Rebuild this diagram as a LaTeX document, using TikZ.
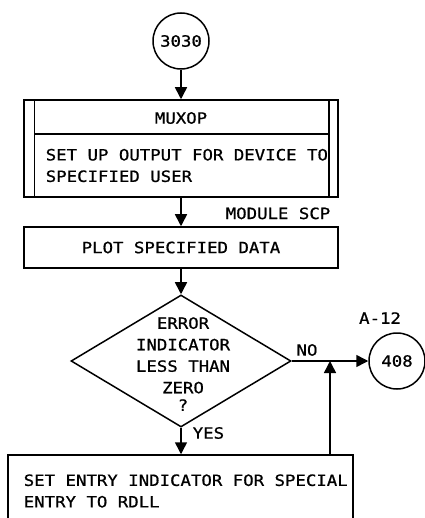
\documentclass[tikz,border=0pt]{standalone}
\usepackage{fontspec}
\newfontfamily\printfont[FakeStretch=1.12,FakeBold=0.8]{DejaVu Sans Mono}
\usetikzlibrary{shapes.geometric,arrows.meta}
\begin{document}
\begin{tikzpicture}[x=1pt,y=-1pt,line width=1.5pt,
    every node/.style={font=\printfont\fontsize{15.5}{21.5}\selectfont,inner sep=0pt},
    connector/.style={draw,circle,minimum size=56pt},
    procbox/.style={draw,rectangle,minimum width=314pt},
    flow/.style={-{Triangle[length=12pt,width=12pt]}}]
      \useasboundingbox (0,0) rectangle (424,518);
      \draw
        (181,41) node[connector] (3030){3030}
        (181,148.5) node[procbox,minimum height=97pt] (mux){}
        (181,118) node (muxname){MUXOP}
        (45,165.5) node[anchor=west,align=left] (muxtext){SET UP OUTPUT FOR DEVICE TO\\SPECIFIED USER}
        (331,220) node[anchor=south east] (module){MODULE SCP}
        (181,247.5) node[procbox,minimum height=41pt] (plot){PLOT SPECIFIED DATA}
        (181,361) node[draw,diamond,minimum width=220pt,minimum height=132pt] (test){}
        (183,364) node[align=center] (testtext){ERROR\\INDICATOR\\LESS THAN\\ZERO\\[-4pt]?}
        (307,350) node (no){NO}
        (192,433) node[anchor=west] (yes){YES}
        (380,318) node (page){A-12}
        (397,361) node[connector] (408){408}
        (180.5,492.5) node[draw,rectangle,minimum width=345pt,minimum height=75pt] (entry){}
        (23,491) node[anchor=west,align=left] (entrytext){SET ENTRY INDICATOR FOR SPECIAL\\ENTRY TO RDLL};
      \coordinate (merge) at (330,361);
      % predefined process edges
      \draw ([xshift=11pt]mux.north west) -- ([xshift=11pt]mux.south west);
      \draw ([xshift=-10pt]mux.north east) -- ([xshift=-10pt]mux.south east);
      \draw ([xshift=11pt]mux.west |- 0,134) -- ([xshift=-10pt]mux.east |- 0,134);
      \begin{scope}[flow]
        \draw (3030) to (mux);
        \draw (mux) to (plot);
        \draw (plot) to (test);
        \draw (test.south) to (test.south |- entry.north);
        \draw (test.east) to (408);
        \draw (entry.north -| merge) to (merge);
      \end{scope}
    \end{tikzpicture}
\end{document}
